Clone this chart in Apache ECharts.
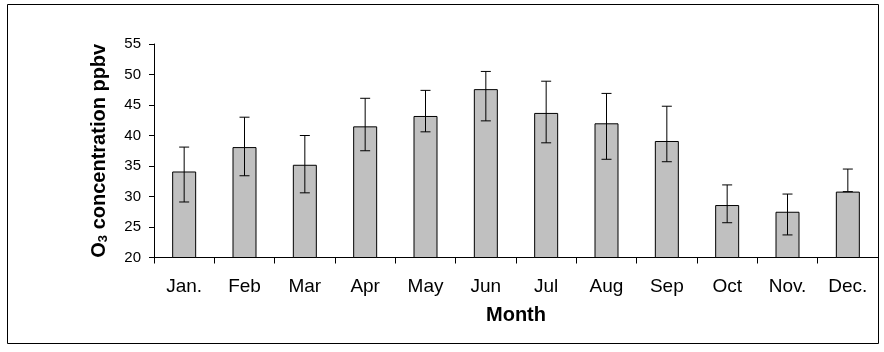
<!DOCTYPE html>
<html>
<head>
<meta charset="utf-8">
<script src="https://cdn.jsdelivr.net/npm/echarts@6/dist/echarts.min.js"></script>
<style>
  html, body { margin: 0; padding: 0; background: #fff; }
  #chart { width: 884px; height: 352px; }
</style>
</head>
<body>
<div id="chart"></div>
<script>
// monthly mean O3 with error bar ends
const months = ["Jan.", "Feb", "Mar", "Apr", "May", "Jun", "Jul", "Aug", "Sep", "Oct", "Nov.", "Dec."];
const means = [34.1, 38.1, 35.2, 41.5, 43.2, 47.6, 43.7, 42.0, 39.1, 28.6, 27.5, 30.8];
const upper = [38.1, 43.0, 40.0, 46.1, 47.4, 50.5, 48.9, 46.9, 44.8, 31.9, 30.4, 34.5];
const lower = [29.1, 33.4, 30.6, 37.5, 40.6, 42.4, 38.8, 36.1, 35.7, 25.7, 23.7, 30.8];
const yTicks = { min: 20, max: 55, step: 5 };

const font = "'Liberation Sans', Arial, sans-serif";
const chart = echarts.init(document.getElementById("chart"));

chart.setOption({
  animation: false,
  backgroundColor: "#fff",
  textStyle: { fontFamily: font },
  graphic: [{
    type: "rect",
    shape: { x: 7.5, y: 4.5, width: 871, height: 339 },
    style: { fill: "none", stroke: "#000", lineWidth: 1 },
    silent: true
  }],
  grid: { left: 154, right: 6, top: 44, bottom: 94.5, containLabel: false },
  xAxis: {
    type: "category",
    data: months,
    name: "Month",
    nameLocation: "middle",
    nameGap: 48,
    nameTextStyle: { fontFamily: font, fontSize: 20, fontWeight: "bold", color: "#000" },
    axisLine: { lineStyle: { color: "#000", width: 1 } },
    axisTick: { show: true, length: 6, lineStyle: { color: "#000" } },
    axisLabel: { color: "#000", fontSize: 19, margin: 20, fontFamily: font, interval: 0 }
  },
  yAxis: {
    type: "value",
    min: yTicks.min,
    max: yTicks.max,
    interval: yTicks.step,
    name: "O{sub|3} concentration ppbv",
    nameLocation: "middle",
    nameGap: 44,
    nameTextStyle: {
      fontFamily: font, fontSize: 20, fontWeight: "bold", color: "#000",
      rich: { sub: { fontSize: 13, fontWeight: "bold", verticalAlign: "bottom", padding: [8, 0, 0, 0] } }
    },
    axisLine: { show: true, lineStyle: { color: "#000", width: 1 } },
    axisTick: { show: true, length: 5, lineStyle: { color: "#000" } },
    splitLine: { show: false },
    axisLabel: { color: "#000", fontSize: 15, margin: 13, fontFamily: font }
  },
  series: [
    {
      type: "bar",
      data: means,
      barWidth: 24,
      itemStyle: { color: "#c0c0c0", borderColor: "#000", borderWidth: 1 }
    },
    {
      type: "custom",
      data: months.map((m, i) => [i, upper[i], lower[i]]),
      z: 10,
      renderItem: (params, api) => {
        const top = api.coord([api.value(0), api.value(1)]);
        const bot = api.coord([api.value(0), api.value(2)]);
        const hw = 5;
        const st = { stroke: "#000", lineWidth: 1 };
        return {
          type: "group",
          children: [
            { type: "line", shape: { x1: top[0], y1: top[1], x2: bot[0], y2: bot[1] }, style: st },
            { type: "line", shape: { x1: top[0] - hw, y1: top[1], x2: top[0] + hw, y2: top[1] }, style: st },
            { type: "line", shape: { x1: bot[0] - hw, y1: bot[1], x2: bot[0] + hw, y2: bot[1] }, style: st }
          ]
        };
      }
    }
  ]
});
</script>
</body>
</html>
